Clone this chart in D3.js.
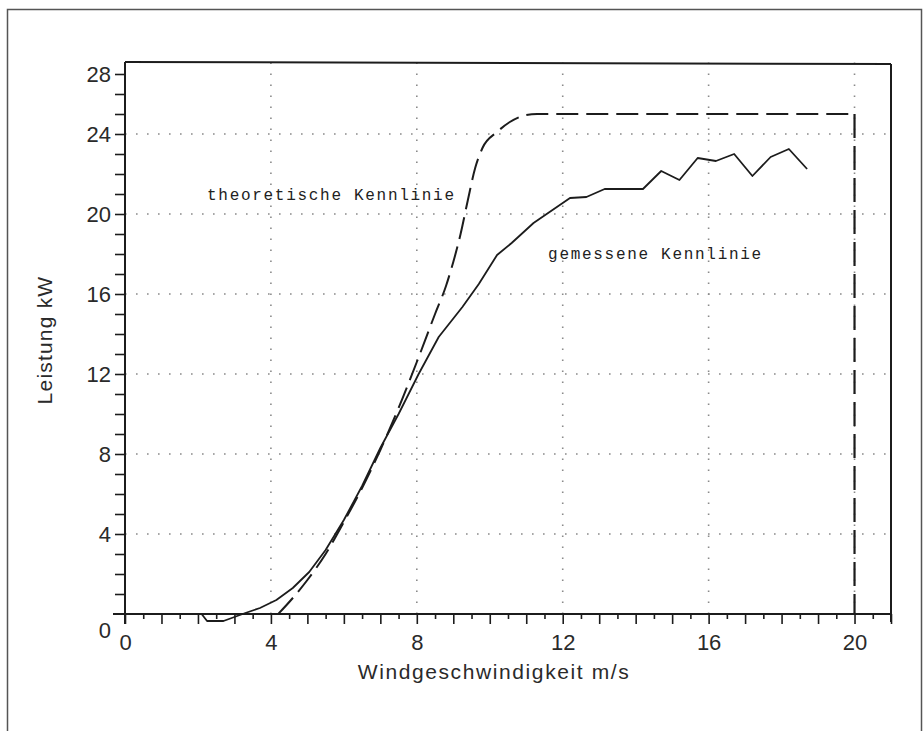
<!DOCTYPE html>
<html>
<head>
<meta charset="utf-8">
<script src="https://cdn.jsdelivr.net/npm/d3@7"></script>
<style>
  html, body { margin: 0; padding: 0; background: #fff; }
  svg { display: block; }
</style>
</head>
<body>
<svg id="chart" width="924" height="731"></svg>
<script>
// ---- data ----
const xTickValues = [0, 4, 8, 12, 16, 20];
const xTickLabels = ["0", "4", "8", "12", "16", "20"];
const yTickLabels = ["0", "4", "8", "12", "16", "20", "24", "28"];
const yTickLabelAt = [-0.8, 4, 8, 12, 16, 20, 24, 27];
const gridX = [4, 8, 12, 16, 20];
const gridY = [4, 8, 12, 16, 20, 24];

// theoretische Kennlinie (dashed), rising part up to the cut-out speed
const theoWind  = [4.2, 4.6, 5.0, 5.5, 6.0, 6.5, 7.0, 7.5, 8.0, 8.5, 8.8, 9.0, 9.2, 9.4, 9.6, 9.8, 10.2, 10.55, 11.0, 11.3, 20.0];
const theoPower = [0.0, 0.8, 1.7, 3.0, 4.6, 6.3, 8.2, 10.3, 12.6, 15.0, 16.4, 17.6, 19.0, 20.7, 22.3, 23.3, 24.1, 24.6, 24.95, 25.0, 25.0];
// cut-out drop of the theoretical curve
const cutWind  = [20.0, 20.0];
const cutPower = [25.0, 0.0];

// gemessene Kennlinie (solid)
const measWind  = [2.1, 2.25, 2.7, 3.0, 3.3, 3.7, 4.15, 4.6, 5.05, 5.5, 6.0, 6.5, 7.0, 7.5, 8.05, 8.6, 9.25, 9.7, 10.2, 10.6, 11.2, 12.2, 12.65, 13.15, 14.2, 14.7, 15.2, 15.7, 16.2, 16.7, 17.2, 17.7, 18.2, 18.7];
const measPower = [0.0, -0.35, -0.35, -0.15, 0.05, 0.3, 0.7, 1.3, 2.1, 3.2, 4.7, 6.4, 8.3, 10.0, 12.0, 13.85, 15.35, 16.5, 17.95, 18.55, 19.55, 20.8, 20.85, 21.25, 21.25, 22.15, 21.7, 22.8, 22.65, 23.0, 21.9, 22.85, 23.25, 22.25];

const xTitle = "Windgeschwindigkeit m/s";
const yTitle = "Leistung kW";
const theoLabel = "theoretische Kennlinie";
const measLabel = "gemessene Kennlinie";

// ---- drawing ----
const svg = d3.select("#chart");
const ink = "#1c1c1c";

const x = d3.scaleLinear().domain([0, 21]).range([125, 891]);
const y = d3.scaleLinear().domain([0, 27.6]).range([614, 62]);

// outer frame
svg.append("rect")
  .attr("x", 7.5).attr("y", 9.5).attr("width", 914).attr("height", 740)
  .attr("fill", "none").attr("stroke", "#555").attr("stroke-width", 1.5);

// dotted grid
const grid = svg.append("g").attr("stroke", "#8a8a8a").attr("stroke-width", 1.6)
  .attr("stroke-dasharray", "1.6,9.4").attr("fill", "none");
grid.selectAll("line.gx").data(gridX).join("line")
  .attr("x1", d => x(d)).attr("x2", d => x(d))
  .attr("y1", y(0)).attr("y2", y.range()[1]);
grid.selectAll("line.gy").data(gridY).join("line")
  .attr("y1", d => y(d)).attr("y2", d => y(d))
  .attr("x1", x(0)).attr("x2", x.range()[1]);

// x axis with ticks every 0.5 (long at integers)
const xAxisMinor = d3.axisBottom(x).tickValues(d3.range(0.5, 21, 1)).tickSize(5).tickFormat("");
const xAxisMajor = d3.axisBottom(x).tickValues(d3.range(0, 22, 1)).tickSize(10).tickFormat("");
[xAxisMinor, xAxisMajor].forEach(ax => {
  const g = svg.append("g").attr("transform", `translate(0,${y(0)})`).call(ax);
  g.select(".domain").remove();
  g.selectAll("line").attr("stroke", ink).attr("stroke-width", 1.6);
});
svg.append("line").attr("x1", x(0) - 12).attr("x2", x.range()[1])
  .attr("y1", y(0)).attr("y2", y(0)).attr("stroke", ink).attr("stroke-width", 2);

// x tick labels
const xLab = d3.axisBottom(x).tickValues(xTickValues).tickSize(0)
  .tickFormat((d, i) => xTickLabels[i]).tickPadding(20);
const gxl = svg.append("g").attr("transform", `translate(0,${y(0)})`).call(xLab);
gxl.select(".domain").remove();
gxl.selectAll("text").attr("font-family", "'Liberation Sans', Arial, sans-serif")
  .attr("font-size", 22).attr("fill", "#2a2a2a");

// y axis ticks every 1
const yAxis = d3.axisLeft(y).tickValues(d3.range(1, 28, 1)).tickSize(10).tickFormat("");
const gy = svg.append("g").attr("transform", `translate(${x(0)},0)`).call(yAxis);
gy.select(".domain").remove();
gy.selectAll("line").attr("stroke", ink).attr("stroke-width", 1.6);
svg.append("line").attr("x1", x(0)).attr("x2", x(0))
  .attr("y1", y(0) + 10).attr("y2", y.range()[1]).attr("stroke", ink).attr("stroke-width", 2);

// y tick labels
svg.append("g").selectAll("text").data(yTickLabels).join("text")
  .attr("x", 111).attr("y", (d, i) => y(yTickLabelAt[i]))
  .attr("dy", "0.36em").attr("text-anchor", "end")
  .attr("font-family", "'Liberation Sans', Arial, sans-serif")
  .attr("font-size", 22).attr("fill", "#2a2a2a").text(d => d);

// top and right frame of the plot
svg.append("line").attr("x1", x(0)).attr("x2", x.range()[1])
  .attr("y1", y.range()[1]).attr("y2", y.range()[1] + 2).attr("stroke", ink).attr("stroke-width", 2);
svg.append("line").attr("x1", x.range()[1]).attr("x2", x.range()[1])
  .attr("y1", y.range()[1] + 2).attr("y2", y(0) + 8).attr("stroke", ink).attr("stroke-width", 2);

// curves
const smooth = d3.line().x(d => x(d[0])).y(d => y(d[1])).curve(d3.curveMonotoneX);
const straight = d3.line().x(d => x(d[0])).y(d => y(d[1]));
svg.append("path").datum(theoWind.map((w, i) => [w, theoPower[i]]))
  .attr("d", smooth).attr("fill", "none").attr("stroke", ink)
  .attr("stroke-width", 2).attr("stroke-dasharray", "22,8");
svg.append("path").datum(cutWind.map((w, i) => [w, cutPower[i]]))
  .attr("d", straight).attr("fill", "none").attr("stroke", ink)
  .attr("stroke-width", 2.2).attr("stroke-dasharray", "24,8");
svg.append("path").datum(measWind.map((w, i) => [w, measPower[i]]))
  .attr("d", straight).attr("fill", "none").attr("stroke", ink)
  .attr("stroke-width", 1.8).attr("stroke-linejoin", "round");

// annotations
const mono = "'Liberation Mono', 'Courier New', monospace";
svg.append("text").attr("x", x(2.25)).attr("y", y(20.7))
  .attr("font-family", mono).attr("font-size", 16).attr("letter-spacing", 1.7)
  .attr("fill", "#222").text(theoLabel);
svg.append("text").attr("x", x(11.6)).attr("y", y(17.75))
  .attr("font-family", mono).attr("font-size", 16).attr("letter-spacing", 1.7)
  .attr("fill", "#222").text(measLabel);

// axis titles
svg.append("text").attr("x", 494).attr("y", 679).attr("text-anchor", "middle")
  .attr("font-family", "'Liberation Sans', Arial, sans-serif").attr("font-size", 21)
  .attr("letter-spacing", 1.6).attr("fill", "#2a2a2a").text(xTitle);
svg.append("text").attr("transform", "translate(52,340) rotate(-90)")
  .attr("text-anchor", "middle")
  .attr("font-family", "'Liberation Sans', Arial, sans-serif").attr("font-size", 21)
  .attr("letter-spacing", 1.2).attr("fill", "#2a2a2a").text(yTitle);
</script>
</body>
</html>
